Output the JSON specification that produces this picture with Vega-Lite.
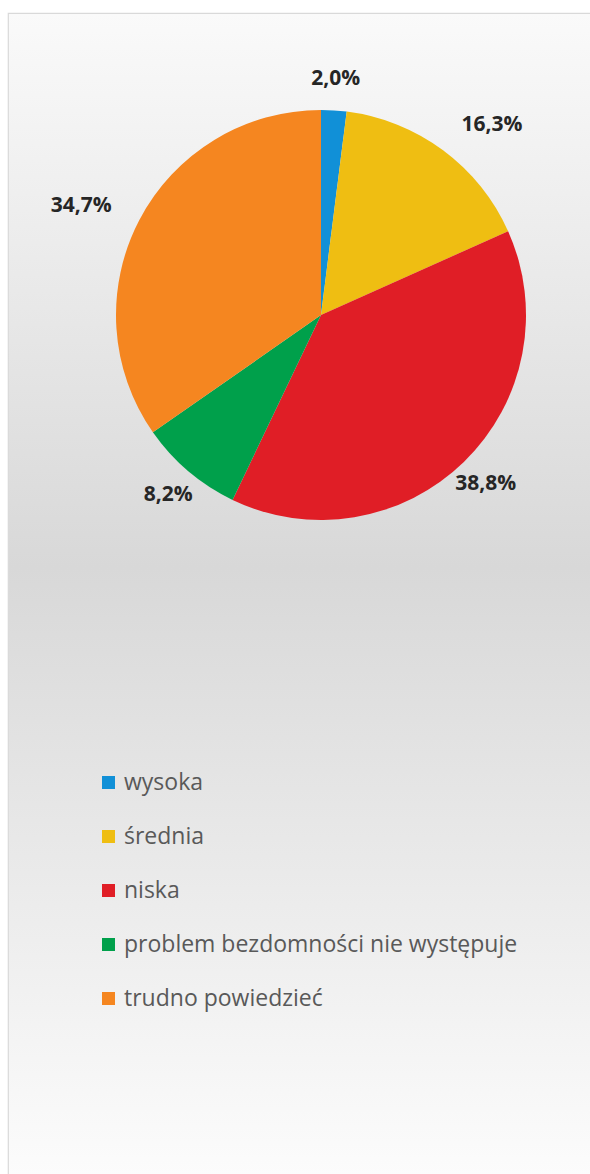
{
  "$schema": "https://vega.github.io/schema/vega-lite/v6.json",
  "autosize": "none",
  "padding": {"left": 8, "top": 13, "right": 0, "bottom": 0},
  "width": 600,
  "height": 1180,
  "background": "white",
  "view": {
    "fill": {"gradient": "linear", "x1": 0, "y1": 0, "x2": 0, "y2": 1,
      "stops": [
        {"offset": 0, "color": "#fafafa"},
        {"offset": 0.47, "color": "#d8d8d8"},
        {"offset": 1, "color": "#fdfdfd"}
      ]},
    "stroke": "#d9d9d9",
    "strokeWidth": 1.2
  },
  "data": {
    "values": [
      {"kategoria": "wysoka", "n": 1, "v": 2.0, "lab": "2,0%"},
      {"kategoria": "średnia", "n": 2, "v": 16.3, "lab": "16,3%"},
      {"kategoria": "niska", "n": 3, "v": 38.8, "lab": "38,8%"},
      {"kategoria": "problem bezdomności nie występuje", "n": 4, "v": 8.2, "lab": "8,2%"},
      {"kategoria": "trudno powiedzieć", "n": 5, "v": 34.7, "lab": "34,7%"}
    ]
  },
  "encoding": {
    "theta": {"field": "v", "type": "quantitative", "stack": true},
    "order": {"field": "n", "type": "quantitative"}
  },
  "layer": [
    {
      "mark": {"type": "arc", "outerRadius": 205, "x": 313, "y": 302},
      "encoding": {
        "color": {
          "field": "kategoria", "type": "nominal",
          "scale": {
            "domain": ["wysoka", "średnia", "niska", "problem bezdomności nie występuje", "trudno powiedzieć"],
            "range": ["#1190d7", "#efbe12", "#e01e26", "#00a04b", "#f58620"]
          },
          "legend": {
            "title": null,
            "orient": "none",
            "legendX": 89,
            "legendY": 758,
            "symbolType": "square",
            "symbolSize": 169,
            "symbolStrokeWidth": 0,
            "labelFont": "Open Sans",
            "labelFontSize": 23,
            "labelColor": "#595959",
            "labelOffset": 4,
            "rowPadding": 30,
            "labelLimit": 500
          }
        }
      }
    },
    {
      "mark": {
        "type": "text", "radius": 236, "x": 313, "y": 302,
        "align": {"expr": "datum.n == 2 ? 'left' : datum.n == 5 ? 'right' : 'center'"},
        "font": "Open Sans", "fontWeight": "bold", "fontSize": 21, "color": "#262626"
      },
      "encoding": {"text": {"field": "lab"}}
    }
  ]
}
